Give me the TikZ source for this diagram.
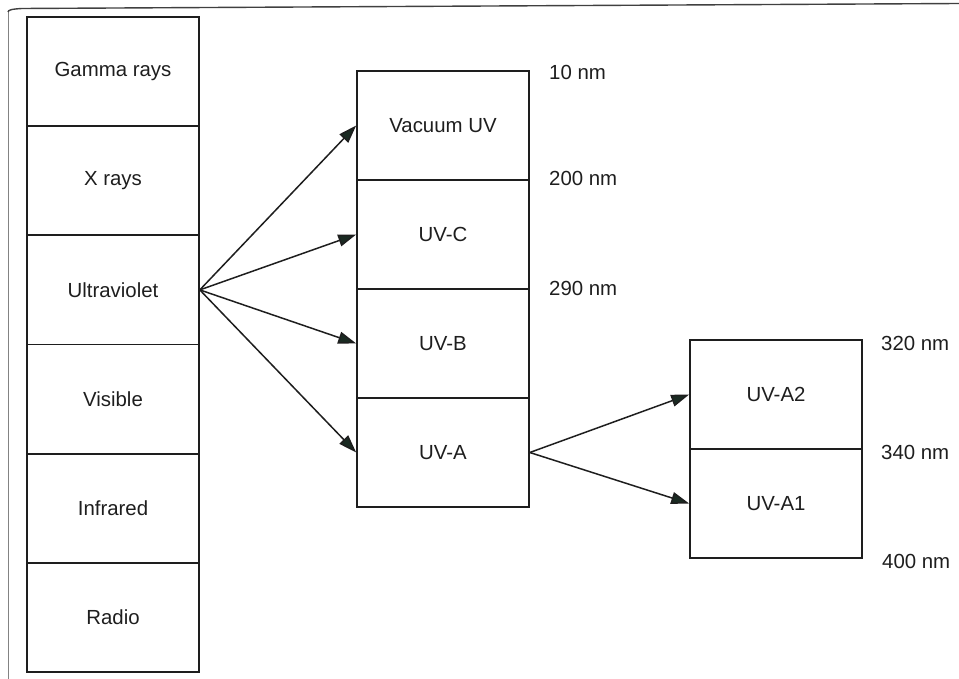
\documentclass[tikz,border=0pt]{standalone}
\usepackage{fontspec}
\setmainfont{Liberation Sans}
\usetikzlibrary{arrows.meta}
\definecolor{ink}{HTML}{1E1E1E}
\definecolor{tipc}{HTML}{1A2A22}
\tikzset{
  band/.style={draw=ink, line width=1.6pt, rectangle, inner sep=0pt,
    minimum width=172pt, minimum height=109pt,
    font=\fontsize{20.4}{24}\selectfont, text=ink},
  wl/.style={anchor=west, inner sep=0pt, font=\fontsize{20.4}{24}\selectfont, text=ink},
  arr/.style={draw=ink, line width=1.5pt,
    -{Triangle[length=18pt,width=12pt,fill=tipc]}},
  frame/.style={draw=ink!85, line width=1.4pt},
  sideframe/.style={draw=ink!55, line width=1pt}
}
\begin{document}
\begin{tikzpicture}[x=1pt,y=-1pt]
\useasboundingbox (0,0) rectangle (959,679);
% scanned page frame
\coordinate (fc) at (8,12);
\draw[sideframe] (8,679) -- (fc);
\draw[frame] (fc) .. controls (8,10) and (12,9) .. (22,8.5) -- (959,3.5);
% left column
\node[band] (gam) at (113,71.5) {Gamma rays};
\node[band] (xr) at (113,180.7) {X rays};
\node[band] (uv) at (113,289.9) {Ultraviolet};
\node[band] (vis) at (113,399.1) {Visible};
\node[band] (ir) at (113,508.3) {Infrared};
\node[band] (rad) at (113,617.5) {Radio};
% middle column
\node[band] (vuv) at (443,125.5) {Vacuum UV};
\node[band] (uvc) at (443,234.5) {UV-C};
\node[band] (uvb) at (443,343.5) {UV-B};
\node[band] (uva) at (443,452.5) {UV-A};
% right column
\node[band] (uva2) at (776,394.5) {UV-A2};
\node[band] (uva1) at (776,503.5) {UV-A1};
% wavelength labels
\node[wl] (l10) at (549,72) {10 nm};
\node[wl] (l200) at (549,178) {200 nm};
\node[wl] (l290) at (549,288) {290 nm};
\node[wl] (l320) at (881,343) {320 nm};
\node[wl] (l340) at (881,452) {340 nm};
\node[wl] (l400) at (882,561) {400 nm};
% arrows
\draw[arr] (uv.east) -- (vuv.west);
\draw[arr] (uv.east) -- (uvc.west);
\draw[arr] (uv.east) -- (uvb.west);
\draw[arr] (uv.east) -- (uva.west);
\draw[arr] (uva.east) -- (uva2.west);
\draw[arr] (uva.east) -- (uva1.west);
\end{tikzpicture}
\end{document}
